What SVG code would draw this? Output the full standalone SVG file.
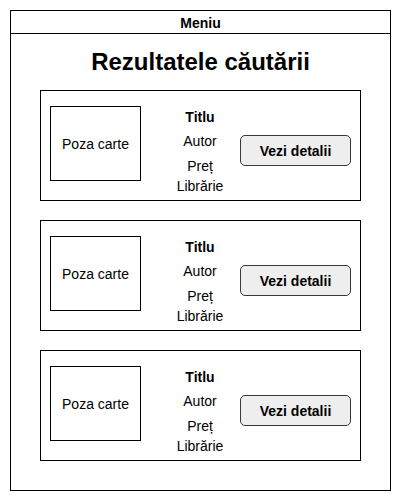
<svg xmlns="http://www.w3.org/2000/svg" width="401" height="501" viewBox="0 0 401 501">
<style>
.box{fill:#fff;stroke:#000;stroke-width:1}
.btn{fill:#eeeeee;stroke:#36393d;stroke-width:1}
text{font-family:"Liberation Sans",Arial,sans-serif;font-size:14px;fill:#000;text-anchor:middle}
.b{font-weight:bold}
.h{font-size:24px;font-weight:bold}
</style>
<rect width="401" height="501" fill="#fff"/>
<g id="page">
<rect class="box" x="10.5" y="10.5" width="380" height="480"/>
<line x1="10.5" y1="33.5" x2="390.5" y2="33.5" stroke="#000"/>
<text class="b" x="200.5" y="27.5">Meniu</text>
<text class="h" x="200.5" y="69.5">Rezultatele căutării</text>
</g>
<g id="card1">
<rect class="box" x="40.5" y="90.5" width="320" height="110"/>
<rect class="box" x="50.5" y="106.5" width="90" height="74"/>
<text x="95.5" y="148.5">Poza carte</text>
<text class="b" x="200" y="122">Titlu</text>
<text x="200" y="146">Autor</text>
<text x="200" y="171">Preț</text>
<text x="200" y="191">Librărie</text>
<rect class="btn" x="240.5" y="135.5" width="110" height="30" rx="4.5"/>
<text class="b" x="295.5" y="155.5">Vezi detalii</text>
</g>
<g id="card2">
<rect class="box" x="40.5" y="220.5" width="320" height="110"/>
<rect class="box" x="50.5" y="236.5" width="90" height="74"/>
<text x="95.5" y="278.5">Poza carte</text>
<text class="b" x="200" y="252">Titlu</text>
<text x="200" y="276">Autor</text>
<text x="200" y="301">Preț</text>
<text x="200" y="321">Librărie</text>
<rect class="btn" x="240.5" y="265.5" width="110" height="30" rx="4.5"/>
<text class="b" x="295.5" y="285.5">Vezi detalii</text>
</g>
<g id="card3">
<rect class="box" x="40.5" y="350.5" width="320" height="110"/>
<rect class="box" x="50.5" y="366.5" width="90" height="74"/>
<text x="95.5" y="408.5">Poza carte</text>
<text class="b" x="200" y="382">Titlu</text>
<text x="200" y="406">Autor</text>
<text x="200" y="431">Preț</text>
<text x="200" y="451">Librărie</text>
<rect class="btn" x="240.5" y="395.5" width="110" height="30" rx="4.5"/>
<text class="b" x="295.5" y="415.5">Vezi detalii</text>
</g>
<g id="connectors"/>
</svg>
